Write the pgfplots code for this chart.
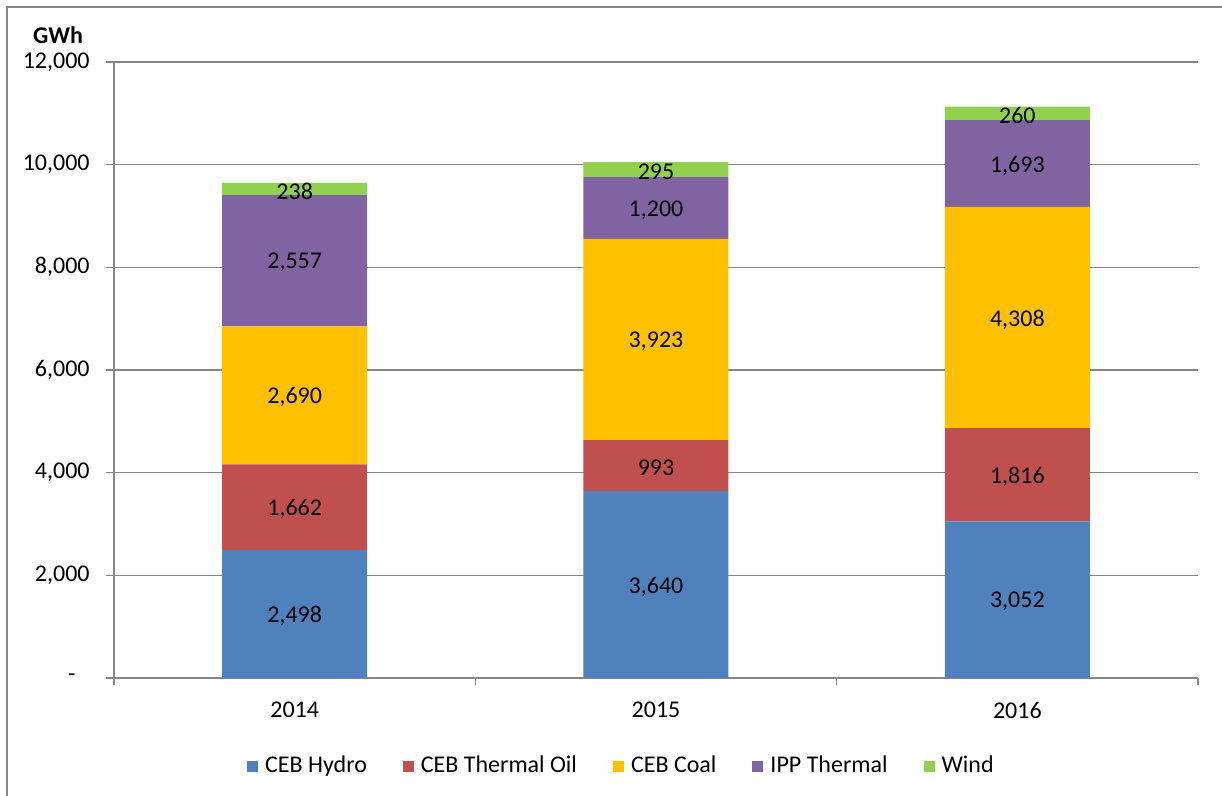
\documentclass[border=0pt]{standalone}
\usepackage{fontspec}
\setmainfont{Carlito}
\usepackage{pgfplots}
\usepackage{pgfplotstable}
\pgfplotsset{compat=1.18}

\definecolor{hydro}{HTML}{4F81BD}
\definecolor{oil}{HTML}{C0504D}
\definecolor{coal}{HTML}{FFC000}
\definecolor{ipp}{HTML}{8064A2}
\definecolor{wind}{HTML}{92D050}
\definecolor{axgray}{RGB}{134,134,134}

\pgfplotstableread{
x hydro oil coal ipp wind
0 2498 1662 2690 2557 238
1 3640 993 3923 1200 295
2 3052 1816 4308 1693 260
}\gendata

\pgfplotsset{
  seg/.style={fill=#1, draw=none},
}

\begin{document}
\fontsize{12}{14.4}\selectfont
\begin{tikzpicture}
\useasboundingbox (-57pt,-59pt) rectangle (554pt,339pt);
\draw[axgray, line width=0.8pt] (-53.5pt,-59pt) -- (-53.5pt,335.5pt) -- (554pt,335.5pt);
\node[font=\bfseries] at (-28pt,321.5pt) {GWh};
\begin{axis}[
  scale only axis,
  width=542pt, height=308pt,
  ybar stacked,
  bar width=72.5pt,
  xmin=-0.5, xmax=2.5,
  ymin=0, ymax=12000,
  axis lines*=left,
  axis line style={axgray, line width=0.8pt},
  xtick={0,1,2},
  xticklabels={2014,2015,2016},
  minor xtick={-0.5,0.5,1.5,2.5},
  major x tick style={draw=none},
  minor tick length=3.5pt,
  scaled y ticks=false,
  ytick={0,2000,4000,6000,8000,10000,12000},
  yticklabels={{-\rule{7pt}{0pt}},{2,000},{4,000},{6,000},{8,000},{10,000},{12,000}},
  major tick length=4pt,
  tick align=outside,
  tick style={axgray, line width=0.8pt},
  ymajorgrids,
  grid style={axgray, line width=0.8pt},
  xticklabel style={yshift=-4pt},
  yticklabel style={xshift=-4pt},
  point meta=explicit,
  nodes near coords={\pgfmathprintnumber[1000 sep={,},assume math mode=true]{\pgfplotspointmeta}},
  every node near coord/.append style={anchor=center, text=black, yshift=-1pt},
  legend columns=-1,
  legend style={at={(0.469,-0.143)}, anchor=center, draw=none,
    /tikz/every even column/.append style={column sep=16pt}},
  legend image code/.code={\fill[#1,draw=none] (0pt,-2.75pt) rectangle (5.5pt,2.75pt); \path (7pt,0pt);},
]
\addplot[seg=hydro] table[x=x, y=hydro, meta=hydro] {\gendata};
\addplot[seg=oil] table[x=x, y=oil, meta=oil] {\gendata};
\addplot[seg=coal] table[x=x, y=coal, meta=coal] {\gendata};
\addplot[seg=ipp] table[x=x, y=ipp, meta=ipp] {\gendata};
\addplot[seg=wind] table[x=x, y=wind, meta=wind] {\gendata};
\legend{CEB Hydro, CEB Thermal Oil, CEB Coal, IPP Thermal, Wind}
\end{axis}
\end{tikzpicture}
\end{document}
